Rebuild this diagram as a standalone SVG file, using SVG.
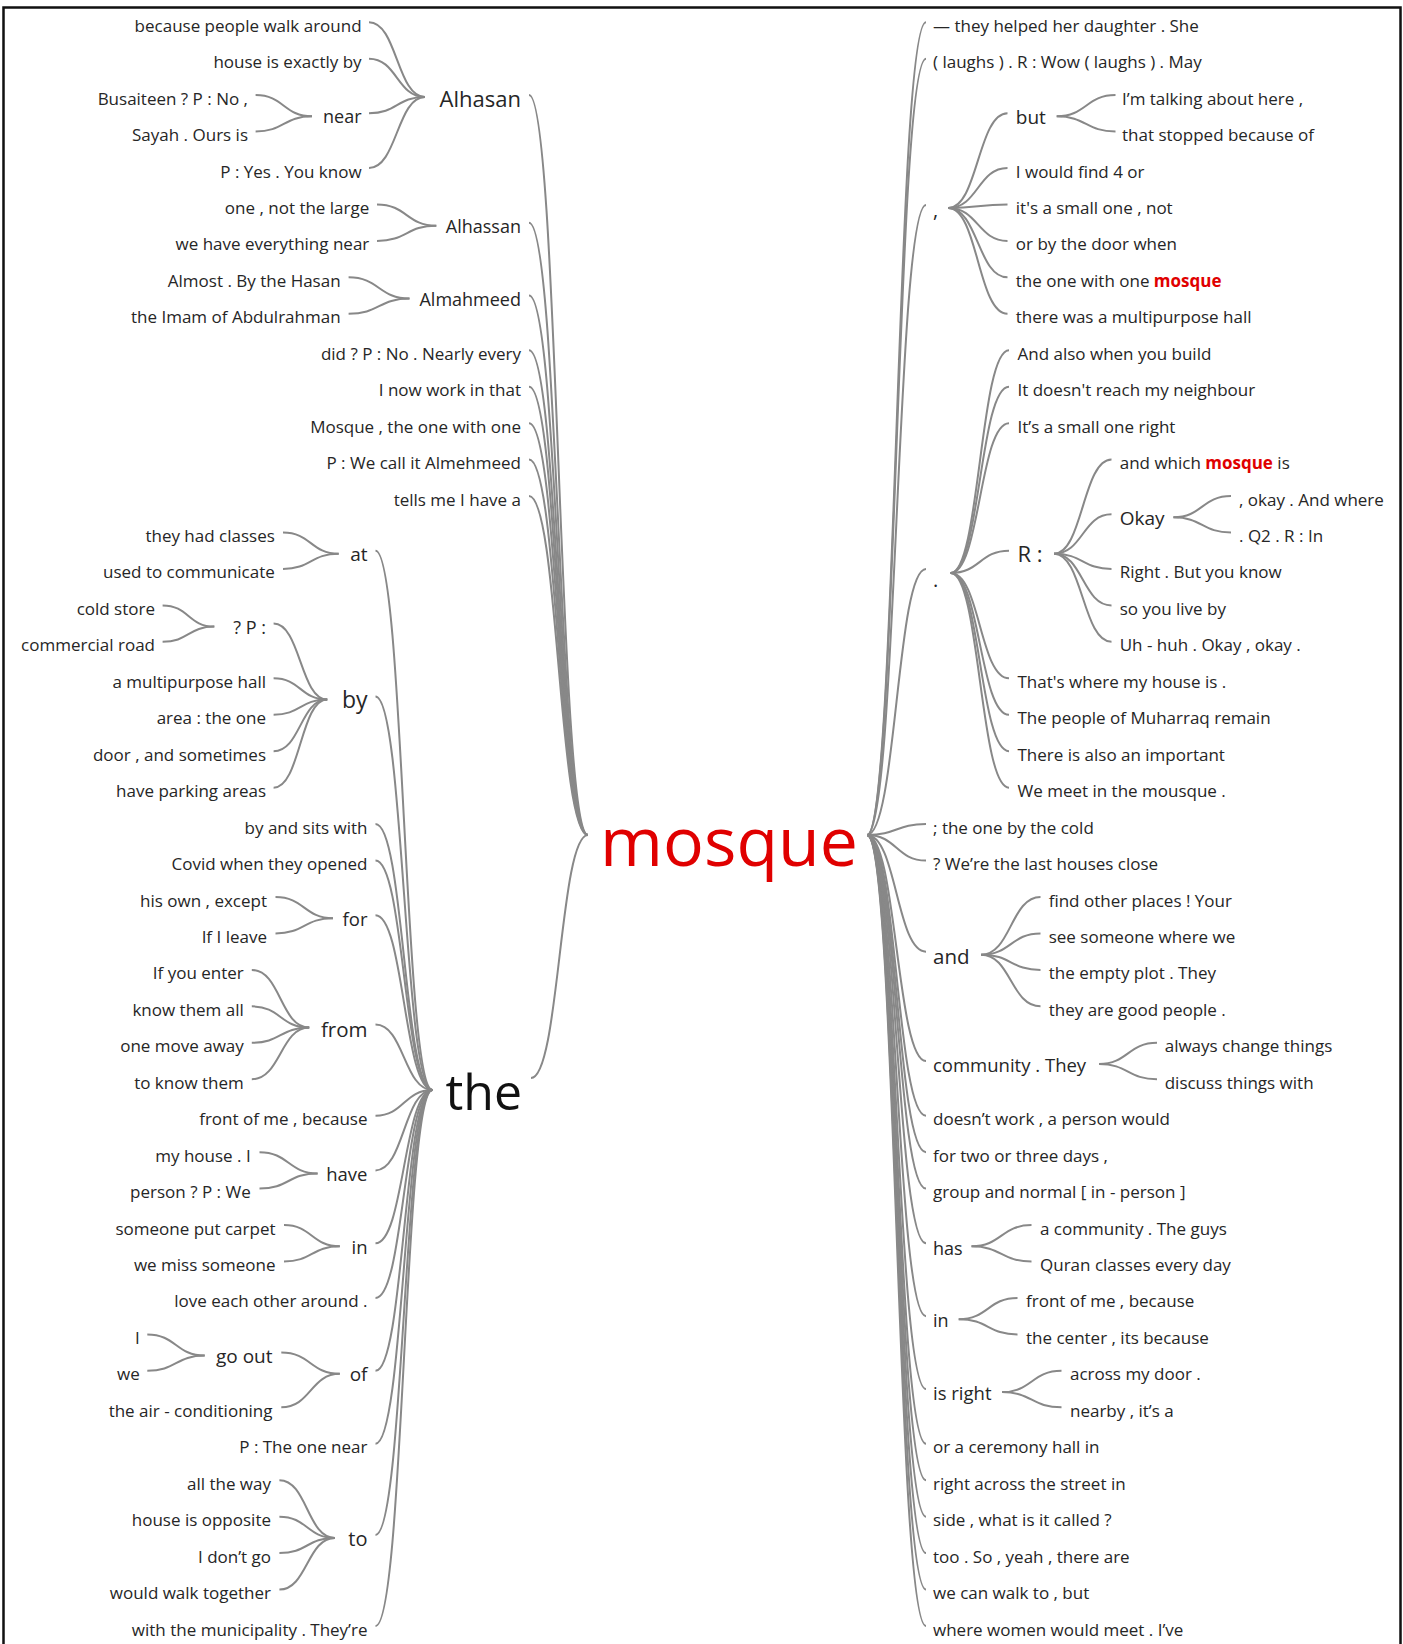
<svg xmlns="http://www.w3.org/2000/svg" width="1403" height="1644" viewBox="0 0 1403 1644">
<style>
text{font-family:"Open Sans","Noto Sans",sans-serif;fill:#262626}
.t{font-size:17px}
.e{text-anchor:end}
.c path{fill:none;stroke:#888;stroke-width:2}
.hl{fill:#e00000;font-weight:bold}
</style>
<rect x="3.5" y="7.5" width="1397" height="1700" fill="#fff" stroke="#111" stroke-width="2.5"/>
<g id="connectors" class="c">
<path d="M529 95C558.5 95 558.5 835 588 835"/>
<path d="M529 222.7C558.5 222.7 558.5 835 588 835"/>
<path d="M529 295.6C558.5 295.6 558.5 835 588 835"/>
<path d="M529 350.25C558.5 350.25 558.5 835 588 835"/>
<path d="M529 386.7C558.5 386.7 558.5 835 588 835"/>
<path d="M529 423.15C558.5 423.15 558.5 835 588 835"/>
<path d="M529 459.6C558.5 459.6 558.5 835 588 835"/>
<path d="M529 496.05C558.5 496.05 558.5 835 588 835"/>
<path d="M531 1078C559.5 1078 559.5 835 588 835"/>
<path d="M369 22.2C397 22.2 397 97 425 97"/>
<path d="M369 58.65C397 58.65 397 97 425 97"/>
<path d="M369 113.3C397 113.3 397 97 425 97"/>
<path d="M369 168C397 168 397 97 425 97"/>
<path d="M255.6 95.1C283.8 95.1 283.8 116.3 312 116.3"/>
<path d="M255.6 131.55C283.8 131.55 283.8 116.3 312 116.3"/>
<path d="M377 204.45C406.65 204.45 406.65 225.7 436.3 225.7"/>
<path d="M377 240.9C406.65 240.9 406.65 225.7 436.3 225.7"/>
<path d="M348.6 277.35C379.05 277.35 379.05 298.6 409.5 298.6"/>
<path d="M348.6 313.8C379.05 313.8 379.05 298.6 409.5 298.6"/>
<path d="M375.5 550.7C404 550.7 404 1090 432.5 1090"/>
<path d="M375.5 696.5C404 696.5 404 1090 432.5 1090"/>
<path d="M375.5 824.1C404 824.1 404 1090 432.5 1090"/>
<path d="M375.5 860.55C404 860.55 404 1090 432.5 1090"/>
<path d="M375.5 915.2C404 915.2 404 1090 432.5 1090"/>
<path d="M375.5 1024.6C404 1024.6 404 1090 432.5 1090"/>
<path d="M375.5 1115.7C404 1115.7 404 1090 432.5 1090"/>
<path d="M375.5 1170.4C404 1170.4 404 1090 432.5 1090"/>
<path d="M375.5 1243.3C404 1243.3 404 1090 432.5 1090"/>
<path d="M375.5 1297.95C404 1297.95 404 1090 432.5 1090"/>
<path d="M375.5 1370.85C404 1370.85 404 1090 432.5 1090"/>
<path d="M375.5 1443.75C404 1443.75 404 1090 432.5 1090"/>
<path d="M375.5 1534.9C404 1534.9 404 1090 432.5 1090"/>
<path d="M375.5 1626C404 1626 404 1090 432.5 1090"/>
<path d="M283 532.5C310.85 532.5 310.85 553.7 338.7 553.7"/>
<path d="M283 568.95C310.85 568.95 310.85 553.7 338.7 553.7"/>
<path d="M273.6 623.6C300.4 623.6 300.4 699.5 327.2 699.5"/>
<path d="M273.6 678.3C300.4 678.3 300.4 699.5 327.2 699.5"/>
<path d="M273.6 714.75C300.4 714.75 300.4 699.5 327.2 699.5"/>
<path d="M273.6 751.2C300.4 751.2 300.4 699.5 327.2 699.5"/>
<path d="M273.6 787.65C300.4 787.65 300.4 699.5 327.2 699.5"/>
<path d="M162.6 605.4C188.45 605.4 188.45 626.6 214.3 626.6"/>
<path d="M162.6 641.85C188.45 641.85 188.45 626.6 214.3 626.6"/>
<path d="M275.5 897C304.25 897 304.25 918.2 333 918.2"/>
<path d="M275.5 933.45C304.25 933.45 304.25 918.2 333 918.2"/>
<path d="M251.8 969.9C280.5 969.9 280.5 1027.6 309.2 1027.6"/>
<path d="M251.8 1006.35C280.5 1006.35 280.5 1027.6 309.2 1027.6"/>
<path d="M251.8 1042.8C280.5 1042.8 280.5 1027.6 309.2 1027.6"/>
<path d="M251.8 1079.25C280.5 1079.25 280.5 1027.6 309.2 1027.6"/>
<path d="M259.5 1152.15C288.55 1152.15 288.55 1173.4 317.6 1173.4"/>
<path d="M259.5 1188.6C288.55 1188.6 288.55 1173.4 317.6 1173.4"/>
<path d="M284 1225.05C311.9 1225.05 311.9 1246.3 339.8 1246.3"/>
<path d="M284 1261.5C311.9 1261.5 311.9 1246.3 339.8 1246.3"/>
<path d="M281.3 1352.6C310.55 1352.6 310.55 1373.85 339.8 1373.85"/>
<path d="M281.3 1407.3C310.55 1407.3 310.55 1373.85 339.8 1373.85"/>
<path d="M147.3 1334.4C176 1334.4 176 1355.6 204.7 1355.6"/>
<path d="M147.3 1370.85C176 1370.85 176 1355.6 204.7 1355.6"/>
<path d="M279.4 1480.2C307.15 1480.2 307.15 1537.9 334.9 1537.9"/>
<path d="M279.4 1516.65C307.15 1516.65 307.15 1537.9 334.9 1537.9"/>
<path d="M279.4 1553.1C307.15 1553.1 307.15 1537.9 334.9 1537.9"/>
<path d="M279.4 1589.55C307.15 1589.55 307.15 1537.9 334.9 1537.9"/>
<path d="M867 835C896.5 835 896.5 22.2 926 22.2"/>
<path d="M867 835C896.5 835 896.5 58.65 926 58.65"/>
<path d="M867 835C896.5 835 896.5 205 926 205"/>
<path d="M867 835C896.5 835 896.5 568.95 926 568.95"/>
<path d="M867 835C896.5 835 896.5 824.1 926 824.1"/>
<path d="M867 835C896.5 835 896.5 860.55 926 860.55"/>
<path d="M867 835C896.5 835 896.5 951.7 926 951.7"/>
<path d="M867 835C896.5 835 896.5 1061 926 1061"/>
<path d="M867 835C896.5 835 896.5 1115.7 926 1115.7"/>
<path d="M867 835C896.5 835 896.5 1152.15 926 1152.15"/>
<path d="M867 835C896.5 835 896.5 1188.6 926 1188.6"/>
<path d="M867 835C896.5 835 896.5 1243.3 926 1243.3"/>
<path d="M867 835C896.5 835 896.5 1316.2 926 1316.2"/>
<path d="M867 835C896.5 835 896.5 1389.1 926 1389.1"/>
<path d="M867 835C896.5 835 896.5 1443.75 926 1443.75"/>
<path d="M867 835C896.5 835 896.5 1480.2 926 1480.2"/>
<path d="M867 835C896.5 835 896.5 1516.65 926 1516.65"/>
<path d="M867 835C896.5 835 896.5 1553.1 926 1553.1"/>
<path d="M867 835C896.5 835 896.5 1589.55 926 1589.55"/>
<path d="M867 835C896.5 835 896.5 1626 926 1626"/>
<path d="M948.3 208C977.9 208 977.9 113.3 1007.5 113.3"/>
<path d="M948.3 208C977.9 208 977.9 168 1007.5 168"/>
<path d="M948.3 208C977.9 208 977.9 204.45 1007.5 204.45"/>
<path d="M948.3 208C977.9 208 977.9 240.9 1007.5 240.9"/>
<path d="M948.3 208C977.9 208 977.9 277.35 1007.5 277.35"/>
<path d="M948.3 208C977.9 208 977.9 313.8 1007.5 313.8"/>
<path d="M1056.7 116.3C1086.1 116.3 1086.1 95.1 1115.5 95.1"/>
<path d="M1056.7 116.3C1086.1 116.3 1086.1 131.55 1115.5 131.55"/>
<path d="M950.7 573C979.85 573 979.85 350.25 1009 350.25"/>
<path d="M950.7 573C979.85 573 979.85 386.7 1009 386.7"/>
<path d="M950.7 573C979.85 573 979.85 423.15 1009 423.15"/>
<path d="M950.7 573C979.85 573 979.85 550.7 1009 550.7"/>
<path d="M950.7 573C979.85 573 979.85 678.3 1009 678.3"/>
<path d="M950.7 573C979.85 573 979.85 714.75 1009 714.75"/>
<path d="M950.7 573C979.85 573 979.85 751.2 1009 751.2"/>
<path d="M950.7 573C979.85 573 979.85 787.65 1009 787.65"/>
<path d="M1054 553.7C1082.75 553.7 1082.75 459.6 1111.5 459.6"/>
<path d="M1054 553.7C1082.75 553.7 1082.75 514.3 1111.5 514.3"/>
<path d="M1054 553.7C1082.75 553.7 1082.75 568.95 1111.5 568.95"/>
<path d="M1054 553.7C1082.75 553.7 1082.75 605.4 1111.5 605.4"/>
<path d="M1054 553.7C1082.75 553.7 1082.75 641.85 1111.5 641.85"/>
<path d="M1173.4 517.3C1202.2 517.3 1202.2 496.05 1231 496.05"/>
<path d="M1173.4 517.3C1202.2 517.3 1202.2 532.5 1231 532.5"/>
<path d="M981.2 954.7C1010.85 954.7 1010.85 897 1040.5 897"/>
<path d="M981.2 954.7C1010.85 954.7 1010.85 933.45 1040.5 933.45"/>
<path d="M981.2 954.7C1010.85 954.7 1010.85 969.9 1040.5 969.9"/>
<path d="M981.2 954.7C1010.85 954.7 1010.85 1006.35 1040.5 1006.35"/>
<path d="M1099 1064C1128 1064 1128 1042.8 1157 1042.8"/>
<path d="M1099 1064C1128 1064 1128 1079.25 1157 1079.25"/>
<path d="M971.5 1246.3C1001.5 1246.3 1001.5 1225.05 1031.5 1225.05"/>
<path d="M971.5 1246.3C1001.5 1246.3 1001.5 1261.5 1031.5 1261.5"/>
<path d="M958.7 1319.2C988.1 1319.2 988.1 1297.95 1017.5 1297.95"/>
<path d="M958.7 1319.2C988.1 1319.2 988.1 1334.4 1017.5 1334.4"/>
<path d="M1002 1392.1C1031.75 1392.1 1031.75 1370.85 1061.5 1370.85"/>
<path d="M1002 1392.1C1031.75 1392.1 1031.75 1407.3 1061.5 1407.3"/>
</g>
<g id="n-mosque"><text x="729" y="866" font-size="68" text-anchor="middle" style="fill:#e00000">mosque</text></g>
<g id="n-the"><text class="e" x="522" y="1110" font-size="50" style="fill:#111">the</text></g>
<g id="n-alhasan"><text class="e" x="521" y="106.5" font-size="22">Alhasan</text></g>
<g id="n-near"><text class="e" x="361.6" y="123" font-size="18">near</text></g>
<g id="n-alhassan"><text class="e" x="521" y="233" font-size="18">Alhassan</text></g>
<g id="n-almahmeed"><text class="e" x="521" y="306" font-size="18">Almahmeed</text></g>
<g id="n-at"><text class="e" x="367.5" y="561" font-size="19">at</text></g>
<g id="n-by"><text class="e" x="367.5" y="708" font-size="23">by</text></g>
<g id="n-qp"><text class="e" x="266" y="633.5" font-size="18">? P :</text></g>
<g id="n-for"><text class="e" x="367.5" y="926" font-size="18.5">for</text></g>
<g id="n-from"><text class="e" x="367.5" y="1037" font-size="20.5">from</text></g>
<g id="n-have"><text class="e" x="367.5" y="1181" font-size="18.5">have</text></g>
<g id="n-in-l"><text class="e" x="367.5" y="1254" font-size="18.5">in</text></g>
<g id="n-of"><text class="e" x="367.5" y="1381" font-size="19">of</text></g>
<g id="n-goout"><text class="e" x="272.5" y="1363" font-size="19">go out</text></g>
<g id="n-to"><text class="e" x="367.5" y="1546" font-size="20">to</text></g>
<g id="left-leaves">
<g id="L00"><text class="t e" x="361.6" y="31.7">because people walk around</text></g>
<g id="L01"><text class="t e" x="361.6" y="68.15">house is exactly by</text></g>
<g id="L02"><text class="t e" x="248" y="104.6">Busaiteen ? P : No ,</text></g>
<g id="L03"><text class="t e" x="248" y="141.05">Sayah . Ours is</text></g>
<g id="L04"><text class="t e" x="361.6" y="177.5">P : Yes . You know</text></g>
<g id="L05"><text class="t e" x="369.3" y="213.95">one , not the large</text></g>
<g id="L06"><text class="t e" x="369.3" y="250.4">we have everything near</text></g>
<g id="L07"><text class="t e" x="340.6" y="286.85">Almost . By the Hasan</text></g>
<g id="L08"><text class="t e" x="340.6" y="323.3">the Imam of Abdulrahman</text></g>
<g id="L09"><text class="t e" x="521" y="359.75">did ? P : No . Nearly every</text></g>
<g id="L10"><text class="t e" x="521" y="396.2">I now work in that</text></g>
<g id="L11"><text class="t e" x="521" y="432.65">Mosque , the one with one</text></g>
<g id="L12"><text class="t e" x="521" y="469.1">P : We call it Almehmeed</text></g>
<g id="L13"><text class="t e" x="521" y="505.55">tells me I have a</text></g>
<g id="L14"><text class="t e" x="274.8" y="542">they had classes</text></g>
<g id="L15"><text class="t e" x="274.8" y="578.45">used to communicate</text></g>
<g id="L16"><text class="t e" x="155" y="614.9">cold store</text></g>
<g id="L17"><text class="t e" x="155" y="651.35">commercial road</text></g>
<g id="L18"><text class="t e" x="266" y="687.8">a multipurpose hall</text></g>
<g id="L19"><text class="t e" x="266" y="724.25">area : the one</text></g>
<g id="L20"><text class="t e" x="266" y="760.7">door , and sometimes</text></g>
<g id="L21"><text class="t e" x="266" y="797.15">have parking areas</text></g>
<g id="L22"><text class="t e" x="367.5" y="833.6">by and sits with</text></g>
<g id="L23"><text class="t e" x="367.5" y="870.05">Covid when they opened</text></g>
<g id="L24"><text class="t e" x="267" y="906.5">his own , except</text></g>
<g id="L25"><text class="t e" x="267" y="942.95">If I leave</text></g>
<g id="L26"><text class="t e" x="243.8" y="979.4">If you enter</text></g>
<g id="L27"><text class="t e" x="243.8" y="1015.85">know them all</text></g>
<g id="L28"><text class="t e" x="243.8" y="1052.3">one move away</text></g>
<g id="L29"><text class="t e" x="243.8" y="1088.75">to know them</text></g>
<g id="L30"><text class="t e" x="367.5" y="1125.2">front of me , because</text></g>
<g id="L31"><text class="t e" x="250.7" y="1161.65">my house . I</text></g>
<g id="L32"><text class="t e" x="250.7" y="1198.1">person ? P : We</text></g>
<g id="L33"><text class="t e" x="275.5" y="1234.55">someone put carpet</text></g>
<g id="L34"><text class="t e" x="275.5" y="1271">we miss someone</text></g>
<g id="L35"><text class="t e" x="367.5" y="1307.45">love each other around .</text></g>
<g id="L36"><text class="t e" x="139.7" y="1343.9">I</text></g>
<g id="L37"><text class="t e" x="139.7" y="1380.35">we</text></g>
<g id="L38"><text class="t e" x="272.5" y="1416.8">the air - conditioning</text></g>
<g id="L39"><text class="t e" x="367.5" y="1453.25">P : The one near</text></g>
<g id="L40"><text class="t e" x="271" y="1489.7">all the way</text></g>
<g id="L41"><text class="t e" x="271" y="1526.15">house is opposite</text></g>
<g id="L42"><text class="t e" x="271" y="1562.6">I don’t go</text></g>
<g id="L43"><text class="t e" x="271" y="1599.05">would walk together</text></g>
<g id="L44"><text class="t e" x="367.5" y="1635.5">with the municipality . They’re</text></g>
</g>
<g id="n-comma"><text x="933" y="217" font-size="20">,</text></g>
<g id="n-but"><text x="1015.8" y="123.5" font-size="19">but</text></g>
<g id="n-dot"><text x="933" y="587" font-size="20">.</text></g>
<g id="n-R"><text x="1017.5" y="562" font-size="22">R :</text></g>
<g id="n-okay"><text x="1119.7" y="524.5" font-size="19">Okay</text></g>
<g id="n-and"><text x="933" y="964" font-size="20.5">and</text></g>
<g id="n-community"><text x="933" y="1072" font-size="18.5">community . They</text></g>
<g id="n-has"><text x="933" y="1254.5" font-size="18">has</text></g>
<g id="n-in-r"><text x="933" y="1327" font-size="18">in</text></g>
<g id="n-isright"><text x="933" y="1400" font-size="18.5">is right</text></g>
<g id="right-leaves">
<g id="R00"><text class="t" x="933" y="31.7">— they helped her daughter . She</text></g>
<g id="R01"><text class="t" x="933" y="68.15">( laughs ) . R : Wow ( laughs ) . May</text></g>
<g id="R02"><text class="t" x="1122" y="104.6">I’m talking about here ,</text></g>
<g id="R03"><text class="t" x="1122" y="141.05">that stopped because of</text></g>
<g id="R04"><text class="t" x="1015.8" y="177.5">I would find 4 or</text></g>
<g id="R05"><text class="t" x="1015.8" y="213.95">it's a small one , not</text></g>
<g id="R06"><text class="t" x="1015.8" y="250.4">or by the door when</text></g>
<g id="R07"><text class="t" x="1015.8" y="286.85">the one with one <tspan class="hl">mosque</tspan></text></g>
<g id="R08"><text class="t" x="1015.8" y="323.3">there was a multipurpose hall</text></g>
<g id="R09"><text class="t" x="1017.5" y="359.75">And also when you build</text></g>
<g id="R10"><text class="t" x="1017.5" y="396.2">It doesn't reach my neighbour</text></g>
<g id="R11"><text class="t" x="1017.5" y="432.65">It’s a small one right</text></g>
<g id="R12"><text class="t" x="1119.7" y="469.1">and which <tspan class="hl">mosque</tspan> is</text></g>
<g id="R13"><text class="t" x="1239" y="505.55">, okay . And where</text></g>
<g id="R14"><text class="t" x="1239" y="542">. Q2 . R : In</text></g>
<g id="R15"><text class="t" x="1119.7" y="578.45">Right . But you know</text></g>
<g id="R16"><text class="t" x="1119.7" y="614.9">so you live by</text></g>
<g id="R17"><text class="t" x="1119.7" y="651.35">Uh - huh . Okay , okay .</text></g>
<g id="R18"><text class="t" x="1017.5" y="687.8">That's where my house is .</text></g>
<g id="R19"><text class="t" x="1017.5" y="724.25">The people of Muharraq remain</text></g>
<g id="R20"><text class="t" x="1017.5" y="760.7">There is also an important</text></g>
<g id="R21"><text class="t" x="1017.5" y="797.15">We meet in the mousque .</text></g>
<g id="R22"><text class="t" x="933" y="833.6">; the one by the cold</text></g>
<g id="R23"><text class="t" x="933" y="870.05">? We’re the last houses close</text></g>
<g id="R24"><text class="t" x="1048.7" y="906.5">find other places ! Your</text></g>
<g id="R25"><text class="t" x="1048.7" y="942.95">see someone where we</text></g>
<g id="R26"><text class="t" x="1048.7" y="979.4">the empty plot . They</text></g>
<g id="R27"><text class="t" x="1048.7" y="1015.85">they are good people .</text></g>
<g id="R28"><text class="t" x="1164.7" y="1052.3">always change things</text></g>
<g id="R29"><text class="t" x="1164.7" y="1088.75">discuss things with</text></g>
<g id="R30"><text class="t" x="933" y="1125.2">doesn’t work , a person would</text></g>
<g id="R31"><text class="t" x="933" y="1161.65">for two or three days ,</text></g>
<g id="R32"><text class="t" x="933" y="1198.1">group and normal [ in - person ]</text></g>
<g id="R33"><text class="t" x="1040" y="1234.55">a community . The guys</text></g>
<g id="R34"><text class="t" x="1040" y="1271">Quran classes every day</text></g>
<g id="R35"><text class="t" x="1026" y="1307.45">front of me , because</text></g>
<g id="R36"><text class="t" x="1026" y="1343.9">the center , its because</text></g>
<g id="R37"><text class="t" x="1070" y="1380.35">across my door .</text></g>
<g id="R38"><text class="t" x="1070" y="1416.8">nearby , it’s a</text></g>
<g id="R39"><text class="t" x="933" y="1453.25">or a ceremony hall in</text></g>
<g id="R40"><text class="t" x="933" y="1489.7">right across the street in</text></g>
<g id="R41"><text class="t" x="933" y="1526.15">side , what is it called ?</text></g>
<g id="R42"><text class="t" x="933" y="1562.6">too . So , yeah , there are</text></g>
<g id="R43"><text class="t" x="933" y="1599.05">we can walk to , but</text></g>
<g id="R44"><text class="t" x="933" y="1635.5">where women would meet . I’ve</text></g>
</g>
</svg>
